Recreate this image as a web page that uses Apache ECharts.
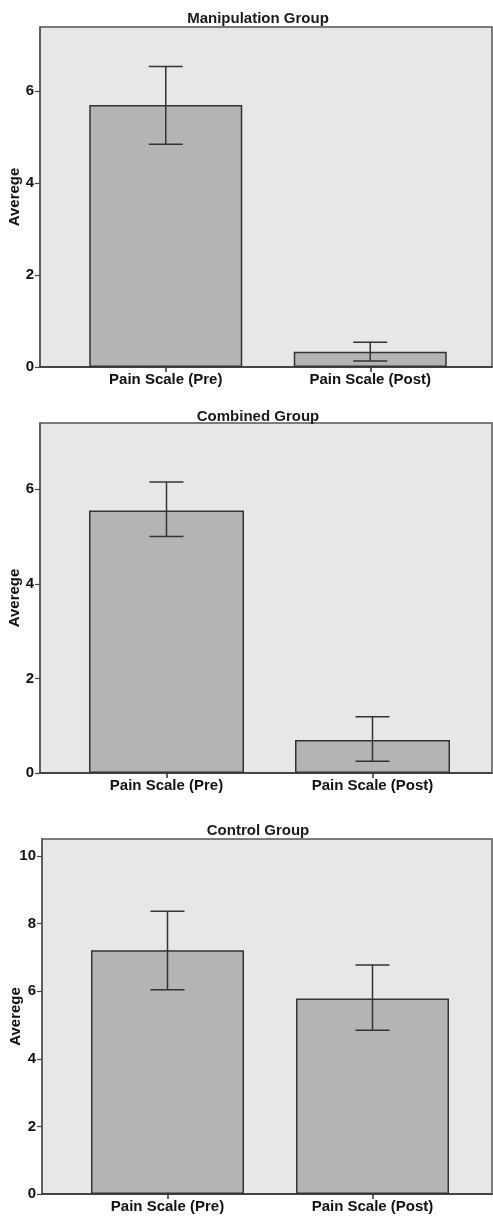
<!DOCTYPE html>
<html>
<head>
<meta charset="utf-8">
<script src="https://cdn.jsdelivr.net/npm/echarts@6/dist/echarts.min.js"></script>
<style>
html,body{margin:0;padding:0;background:#fff;}
#chart{width:493px;height:1216px;}
</style>
</head>
<body>
<div id="chart"></div>
<script>
// ---- data ----
const categories = ['Pain Scale (Pre)', 'Pain Scale (Post)'];
const panelTitles = ['Manipulation Group', 'Combined Group', 'Control Group'];
const yAxisName = 'Averege';
const manipulationMeans = [5.70, 0.33];
const manipulationLow = [4.85, 0.13];
const manipulationHigh = [6.54, 0.54];
const combinedMeans = [5.55, 0.70];
const combinedLow = [5.00, 0.25];
const combinedHigh = [6.15, 1.19];
const controlMeans = [7.21, 5.78];
const controlLow = [6.04, 4.84];
const controlHigh = [8.36, 6.77];
const yMaxes = [7.4, 7.4, 10.5];
const yTicks12 = [0, 2, 4, 6];
const yTicks3 = [0, 2, 4, 6, 8, 10];

// ---- layout ----
const panels = [
  {means: manipulationMeans, low: manipulationLow, high: manipulationHigh, yTicks: yTicks12,
   frameLeft: 40, top: 27, height: 340, barLeft: 63.5, barWidthPx: 409, bw: 153, titleY: 6, nameGap: 18},
  {means: combinedMeans, low: combinedLow, high: combinedHigh, yTicks: yTicks12,
   frameLeft: 40, top: 423, height: 350, barLeft: 63.5, barWidthPx: 412, bw: 155, titleY: 404, nameGap: 18},
  {means: controlMeans, low: controlLow, high: controlHigh, yTicks: yTicks3,
   frameLeft: 42, top: 839, height: 355, barLeft: 65, barWidthPx: 410, bw: 153, titleY: 818, nameGap: 19}
];

const FONT = 'Liberation Sans';
const lineColor = '#333';
const textColor = '#111';

const option = {
  backgroundColor: '#ffffff',
  animation: false,
  textStyle: {fontFamily: FONT},
  title: [], grid: [], xAxis: [], yAxis: [], series: []
};

panels.forEach((p, i) => {
  const fg = i * 2, bg = i * 2 + 1;
  option.title.push({
    text: panelTitles[i], left: 253, top: p.titleY, textAlign: 'center',
    textStyle: {fontFamily: FONT, fontWeight: 'bold', fontSize: 15, color: '#1a1a1a'}
  });
  // frame grid
  option.grid.push({
    left: p.frameLeft, top: p.top, height: p.height, right: 1,
    outerBoundsMode: 'none', containLabel: false,
    show: true, backgroundColor: '#e7e7e7', borderColor: '#555', borderWidth: 1.5
  });
  // bar grid
  option.grid.push({
    left: p.barLeft, top: p.top, height: p.height, width: p.barWidthPx,
    outerBoundsMode: 'none', containLabel: false
  });
  option.xAxis.push({
    gridIndex: fg, type: 'value', min: 0, max: 1,
    axisLine: {show: true, onZero: false, lineStyle: {color: '#333', width: 1.5}},
    axisTick: {show: false}, axisLabel: {show: false}, splitLine: {show: false}
  });
  option.xAxis.push({
    gridIndex: bg, type: 'category', data: categories, boundaryGap: true,
    axisLine: {show: false},
    axisTick: {show: true, alignWithLabel: true, length: 5, lineStyle: {color: '#333', width: 1.5}},
    axisLabel: {margin: 5, fontFamily: FONT, fontWeight: 'bold', fontSize: 15, color: textColor, interval: 0}
  });
  option.yAxis.push({
    gridIndex: fg, type: 'value', min: 0, max: yMaxes[i],
    name: yAxisName, nameLocation: 'middle', nameRotate: 90, nameGap: p.nameGap, nameMoveOverlap: false,
    nameTextStyle: {fontFamily: FONT, fontWeight: 'bold', fontSize: 15, color: textColor},
    axisLine: {show: true, lineStyle: {color: '#555', width: 1.5}},
    axisTick: {show: true, length: 5, customValues: p.yTicks, lineStyle: {color: '#444', width: 1.2}},
    axisLabel: {customValues: p.yTicks, margin: 6, fontFamily: FONT, fontWeight: 'bold', fontSize: 15, color: textColor},
    splitLine: {show: false}
  });
  option.yAxis.push({
    gridIndex: bg, type: 'value', min: 0, max: yMaxes[i],
    axisLine: {show: false}, axisTick: {show: false}, axisLabel: {show: false}, splitLine: {show: false}
  });
  option.series.push({
    type: 'bar', xAxisIndex: bg, yAxisIndex: bg, data: p.means, barWidth: p.bw,
    itemStyle: {color: '#b4b4b4', borderColor: '#333', borderWidth: 1.5}, z: 2
  });
  option.series.push({
    type: 'custom', xAxisIndex: bg, yAxisIndex: bg, z: 3,
    data: p.means.map((m, k) => [k, p.low[k], p.high[k]]),
    renderItem: function (params, api) {
      const x = api.coord([api.value(0), 0])[0];
      const yl = api.coord([api.value(0), api.value(1)])[1];
      const yh = api.coord([api.value(0), api.value(2)])[1];
      const hw = 17;
      const st = {stroke: lineColor, lineWidth: 1.5};
      return {type: 'group', children: [
        {type: 'line', shape: {x1: x, y1: yl, x2: x, y2: yh}, style: st},
        {type: 'line', shape: {x1: x - hw, y1: yl, x2: x + hw, y2: yl}, style: st},
        {type: 'line', shape: {x1: x - hw, y1: yh, x2: x + hw, y2: yh}, style: st}
      ]};
    }
  });
});

const chart = echarts.init(document.getElementById('chart'), null, {renderer: 'canvas'});
chart.setOption(option);
</script>
</body>
</html>
